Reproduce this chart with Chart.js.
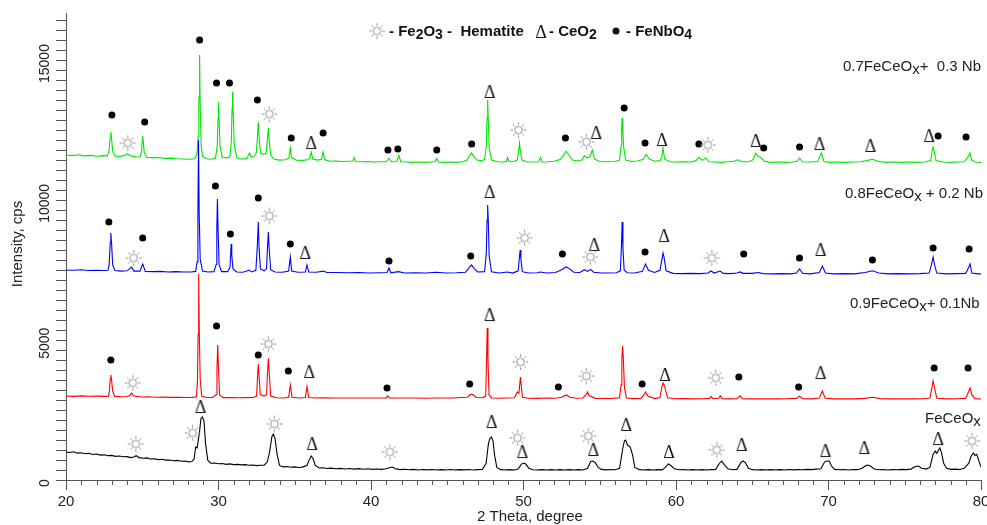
<!DOCTYPE html>
<html><head><meta charset="utf-8">
<script src="https://cdn.jsdelivr.net/npm/chart.js@4.4.1/dist/chart.umd.min.js"></script>
<style>html,body{margin:0;padding:0;background:#fff;}canvas{display:block}</style>
</head><body>
<canvas id="c" width="987" height="525"></canvas>
<script>
// ---------- axis ticks ----------
const xTickLabels = [20, 30, 40, 50, 60, 70, 80];
const yTickLabels = [0, 5000, 10000, 15000];
const seriesLabels = ['0.7FeCeOx+  0.3 Nb', '0.8FeCeOx + 0.2 Nb', '0.9FeCeOx+ 0.1Nb', 'FeCeOx'];

// ---------- XRD patterns (2θ, cps) ----------
const nb03 = [[20,11620],[20.4,11600],[20.8,11630],[21.2,11590],[21.6,11610],[22,11580],[22.4,11600],[22.7,11590],
[22.82,11780],[22.9,12250],[22.94,12444],[22.99,12200],[23.06,11760],[23.2,11590],
[23.5,11570],[23.8,11600],[24.05,11670],[24.25,11590],[24.6,11560],[24.85,11550],
[24.96,11740],[25.0,12150],[25.03,12301],[25.07,12100],[25.13,11700],[25.3,11540],
[25.7,11520],[26.1,11530],[26.5,11500],[26.9,11510],[27.3,11490],[27.7,11480],[28.1,11470],[28.45,11490],
[28.6,11700],[28.67,12300],[28.71,13650],[28.73,13700],[28.76,15198],[28.8,13400],[28.86,12000],[28.95,11580],[29.2,11490],
[29.5,11470],[29.8,11500],
[29.92,11950],[29.97,12950],[30.0,13517],[30.04,12900],[30.1,11950],[30.25,11540],
[30.55,11520],[30.75,11560],
[30.84,12100],[30.89,13300],[30.92,13875],[30.96,13200],[31.03,12000],[31.2,11520],
[31.5,11470],[31.85,11500],[32.03,11694],[32.15,11540],[32.35,11580],[32.48,11700],
[32.55,12250],[32.61,12802],[32.66,12300],[32.75,11700],[32.95,11640],[33.12,11680],
[33.21,12200],[33.27,12588],[33.32,12150],[33.42,11640],[33.6,11480],
[34.0,11440],[34.4,11450],[34.62,11520],[34.71,11873],[34.8,11520],[35.1,11440],[35.5,11430],[35.85,11450],
[35.98,11500],[36.08,11729],[36.18,11480],[36.5,11440],[36.76,11470],[36.86,11729],[36.96,11460],
[37.3,11400],[37.7,11410],[38.1,11390],[38.5,11400],[38.8,11410],[38.89,11530],[39.0,11390],
[39.4,11380],[39.8,11390],[40.2,11370],[40.6,11380],[41.0,11380],[41.18,11500],[41.35,11380],
[41.7,11390],[41.83,11610],[41.95,11380],[42.3,11370],[42.7,11360],[43.1,11370],[43.5,11360],[43.9,11370],
[44.2,11380],[44.31,11500],[44.42,11370],[44.8,11360],[45.2,11370],[45.6,11360],[46.0,11380],
[46.3,11440],[46.45,11600],[46.6,11694],[46.75,11560],[46.95,11440],[47.25,11420],[47.45,11460],
[47.56,11950],[47.61,12950],[47.65,13589],[47.69,12900],[47.75,11900],[47.9,11440],
[48.3,11380],[48.7,11370],[48.88,11400],[48.95,11530],[49.05,11390],[49.4,11400],[49.6,11450],
[49.69,11800],[49.74,12051],[49.79,11780],[49.9,11440],[50.2,11380],[50.6,11370],[51.0,11380],
[51.11,11530],[51.22,11370],[51.6,11380],[52.0,11400],[52.4,11460],[52.6,11600],[52.8,11760],[52.95,11640],[53.2,11440],
[53.6,11410],[53.85,11450],[53.99,11600],[54.15,11520],[54.35,11560],[54.51,11800],[54.65,11480],
[55.0,11390],[55.5,11380],[56.0,11390],[56.3,11440],[56.4,11950],[56.44,12600],[56.47,12945],[56.51,12500],[56.57,11900],[56.7,11440],
[57.1,11390],[57.5,11410],[57.85,11470],[58.04,11650],[58.25,11480],[58.6,11400],[58.95,11420],
[59.06,11520],[59.15,11873],[59.25,11480],[59.6,11380],[60.0,11370],[60.5,11380],[61.0,11370],[61.3,11420],
[61.5,11536],[61.7,11430],[61.96,11510],[62.15,11380],[62.6,11370],[63.0,11360],[63.4,11380],[63.8,11400],
[64.05,11450],[64.35,11380],[64.8,11380],[65.05,11450],[65.23,11690],[65.4,11560],[65.56,11530],[65.8,11400],
[66.2,11360],[66.7,11370],[67.2,11360],[67.7,11370],[67.95,11400],[68.1,11510],[68.3,11380],
[68.8,11370],[69.3,11390],[69.45,11600],[69.54,11694],[69.7,11390],[70.1,11360],[70.6,11370],
[71.1,11360],[71.6,11370],[72.1,11380],[72.5,11420],[72.88,11470],[73.3,11390],[73.8,11360],
[74.3,11370],[74.8,11360],[75.3,11370],[75.8,11360],[76.3,11370],[76.7,11420],[76.8,11800],
[76.86,11908],[76.93,11750],[77.05,11420],[77.5,11370],[78.0,11360],[78.5,11370],[78.9,11380],
[79.2,11600],[79.28,11694],[79.38,11450],[79.6,11370],[80,11360]];

const nb02 = [[20,7510],[20.5,7500],[21,7520],[21.5,7490],[22,7500],[22.5,7490],[22.75,7500],
[22.83,7700],[22.9,8500],[22.94,8833],[22.99,8450],[23.06,7700],[23.2,7490],
[23.6,7470],[24.0,7480],[24.3,7617],[24.45,7470],[24.85,7470],[25.03,7725],[25.2,7460],
[25.7,7450],[26.2,7460],[26.7,7440],[27.2,7450],[27.7,7440],[28.2,7440],[28.5,7460],
[28.6,7800],[28.65,9500],[28.69,12158],[28.73,9600],[28.8,7900],[28.95,7470],[29.3,7440],[29.7,7450],
[29.84,7700],[29.89,9000],[29.93,10049],[29.97,9000],[30.04,7700],[30.2,7450],[30.6,7450],
[30.75,7600],[30.8,8100],[30.83,8440],[30.87,8050],[30.95,7550],[31.2,7440],[31.6,7430],
[32.0,7500],[32.2,7440],[32.45,7500],[32.54,8300],[32.61,9226],[32.66,8300],[32.75,7550],[33.0,7480],
[33.15,7560],[33.22,8400],[33.27,8869],[33.32,8300],[33.42,7520],[33.7,7440],[34.2,7430],
[34.6,7470],[34.71,7975],[34.8,7470],[35.2,7430],[35.7,7440],[35.8,7689],[35.92,7440],[36.4,7430],
[36.9,7470],[37.1,7420],[37.8,7420],[38.5,7410],[39.2,7420],[39.9,7400],[40.6,7410],[41.05,7420],
[41.18,7582],[41.3,7410],[41.8,7450],[42.2,7400],[42.9,7410],[43.6,7400],[44.3,7430],[44.9,7400],
[45.6,7410],[46.2,7430],[46.45,7600],[46.6,7689],[46.75,7570],[47.0,7440],[47.45,7450],
[47.56,8100],[47.61,9300],[47.65,9834],[47.69,9300],[47.75,8000],[47.9,7450],[48.4,7400],[48.95,7440],[49.3,7400],
[49.65,7480],[49.72,7900],[49.78,8225],[49.83,7900],[49.92,7450],[50.3,7400],[50.9,7410],[51.1,7440],[51.5,7400],
[52.1,7420],[52.5,7520],[52.8,7617],[53.0,7560],[53.3,7430],[53.7,7420],[54.0,7520],[54.2,7460],[54.4,7530],[54.6,7430],
[55.1,7400],[55.6,7400],[56.1,7410],[56.35,7480],[56.42,8300],[56.47,9226],[56.52,8300],[56.6,7500],[56.8,7410],
[57.3,7400],[57.8,7460],[58.0,7725],[58.2,7500],[58.6,7420],[58.95,7500],[59.08,7900],[59.15,8118],[59.22,7950],[59.35,7480],
[59.8,7390],[60.4,7380],[61.0,7390],[61.6,7380],[62.1,7400],[62.3,7474],[62.5,7400],[62.9,7474],[63.1,7390],
[63.6,7380],[64.0,7400],[64.2,7440],[64.4,7390],[65.0,7390],[65.4,7420],[65.7,7380],[66.3,7370],[66.9,7380],
[67.5,7370],[67.9,7400],[68.1,7546],[68.3,7390],[68.8,7370],[69.4,7420],[69.6,7653],[69.8,7400],[70.3,7370],
[71.0,7380],[71.7,7370],[72.4,7420],[72.9,7480],[73.3,7400],[73.9,7370],[74.6,7380],[75.3,7370],[76.0,7380],
[76.6,7400],[76.75,7700],[76.86,7975],[76.95,7700],[77.1,7400],[77.7,7370],[78.4,7380],[79.0,7390],
[79.15,7550],[79.28,7725],[79.4,7400],[79.8,7370],[80,7370]];

const nb01 = [[20,3004],[20.5,2990],[21,3010],[21.5,2995],[22,3000],[22.5,2990],[22.78,3000],
[22.85,3200],[22.9,3600],[22.94,3755],[22.99,3580],[23.06,3180],[23.2,2990],
[23.6,2975],[24.0,2985],[24.2,3030],[24.3,3111],[24.45,3000],[24.9,2970],[25.4,2975],
[25.9,2960],[26.4,2965],[26.9,2955],[27.4,2960],[27.9,2950],[28.3,2955],[28.55,2980],
[28.62,3500],[28.66,5200],[28.7,7367],[28.74,5300],[28.8,3600],[28.9,3000],[29.2,2950],[29.6,2950],
[29.85,3050],[29.9,4000],[29.95,4828],[30.0,4000],[30.07,3050],[30.3,2945],[30.8,2950],[31.3,2940],[31.8,2945],
[32.3,2950],[32.5,3000],[32.56,3700],[32.61,4148],[32.66,3700],[32.74,3050],[33.0,3000],[33.15,3050],
[33.22,3900],[33.27,4352],[33.32,3900],[33.42,3000],[33.8,2940],[34.3,2935],[34.6,2960],
[34.71,3397],[34.82,2960],[35.3,2935],[35.7,2950],[35.8,3337],[35.92,2950],[36.4,2935],
[36.9,2940],[37.5,2930],[38.1,2935],[38.7,2930],[39.3,2935],[39.9,2930],[40.5,2930],[41.0,2935],
[41.1,3004],[41.2,2930],[41.8,2930],[42.4,2935],[43.0,2930],[43.6,2925],[44.2,2935],[44.8,2930],
[45.4,2930],[45.9,2950],[46.3,2960],[46.5,3050],[46.6,3075],[46.72,3040],[46.9,2950],[47.3,2940],
[47.52,3000],[47.58,4300],[47.62,5436],[47.67,4300],[47.74,3050],[47.9,2935],[48.4,2925],[48.9,2930],
[49.4,2940],[49.6,3150],[49.7,3100],[49.75,3400],[49.8,3683],[49.85,3400],[49.93,2960],[50.3,2925],
[50.9,2920],[51.5,2930],[52.1,2925],[52.5,2960],[52.8,3040],[53.05,2960],[53.5,2925],[53.9,2935],
[54.1,3050],[54.2,3147],[54.3,3020],[54.7,2920],[55.2,2915],[55.8,2920],[56.3,2940],[56.4,3400],
[56.45,4300],[56.5,4792],[56.55,4300],[56.62,3300],[56.75,2930],[57.2,2910],[57.7,2920],[57.9,3050],
[58.0,3147],[58.15,3000],[58.6,2910],[58.95,2950],[59.08,3350],[59.15,3469],[59.22,3400],[59.3,3250],[59.45,2940],
[59.9,2905],[60.5,2910],[61.1,2900],[61.7,2905],[62.2,2920],[62.3,2990],[62.42,2905],[62.8,2920],
[62.9,3010],[63.0,2910],[63.5,2900],[64.0,2910],[64.2,3010],[64.35,2905],[64.9,2900],[65.5,2905],
[66.1,2900],[66.7,2900],[67.3,2905],[67.9,2920],[68.1,3000],[68.3,2905],[68.9,2900],[69.4,2930],
[69.6,3183],[69.78,2920],[70.3,2900],[71.0,2905],[71.7,2900],[72.4,2920],[72.9,2960],[73.4,2910],
[74.1,2900],[74.8,2905],[75.5,2900],[76.2,2905],[76.65,2930],[76.78,3300],[76.86,3540],[76.95,3300],
[77.1,2920],[77.7,2900],[78.4,2905],[79.0,2920],[79.18,3150],[79.28,3290],[79.4,3050],[79.6,2910],[80,2897]];

const feceox = [[20,1000],[20.25,985],[20.5,1010],[20.75,960],[21,975],[21.25,940],[21.5,955],[21.75,910],[22,930],
[22.25,890],[22.5,900],[22.75,870],[23,880],[23.25,845],[23.5,860],[23.75,830],[24,835],[24.25,800],
[24.45,820],[24.6,870],[24.8,800],[25.05,780],[25.3,790],[25.55,750],[25.8,760],[26.05,730],[26.3,740],
[26.55,710],[26.8,715],[27.05,690],[27.3,700],[27.55,670],[27.8,680],[28.05,650],[28.25,660],
[28.4,750],[28.5,1180],[28.6,1150],[28.75,1700],[28.85,2200],[28.95,2253],[29.05,2100],[29.15,1300],[29.3,700],
[29.5,600],[29.75,610],[30,580],[30.25,590],[30.5,560],[30.75,575],[31,550],[31.25,560],[31.5,540],
[31.75,550],[32,525],[32.25,535],[32.5,515],[32.75,525],[33.0,530],[33.2,650],[33.35,1000],
[33.5,1550],[33.6,1645],[33.7,1500],[33.85,900],[34.0,520],[34.25,470],[34.5,480],[34.75,455],[35,470],
[35.25,445],[35.5,460],[35.8,520],[35.95,720],[36.08,858],[36.2,760],[36.35,520],[36.6,430],[36.85,440],
[37.1,410],[37.4,425],[37.7,400],[38,415],[38.3,395],[38.6,410],[38.9,390],[39.2,405],[39.5,385],
[39.8,400],[40.1,380],[40.4,395],[40.7,380],[41.0,400],[41.25,450],[41.4,465],[41.6,400],[41.9,370],
[42.2,385],[42.5,365],[42.8,380],[43.1,360],[43.4,378],[43.7,362],[44.0,375],[44.3,358],[44.6,372],
[44.9,360],[45.2,375],[45.5,358],[45.8,370],[46.1,362],[46.4,378],[46.7,360],[47.0,372],[47.3,380],
[47.55,600],[47.7,1300],[47.8,1480],[47.9,1538],[48.0,1400],[48.1,900],[48.25,450],[48.5,370],
[48.8,358],[49.1,372],[49.4,360],[49.65,390],[49.85,560],[50.0,608],[50.15,570],[50.35,420],[50.6,365],
[50.9,358],[51.2,372],[51.5,356],[51.8,370],[52.1,358],[52.4,372],[52.7,356],[53.0,370],[53.3,358],
[53.6,372],[53.9,360],[54.2,420],[54.4,660],[54.55,680],[54.7,620],[54.9,450],[55.1,380],[55.4,362],
[55.7,375],[56.0,365],[56.3,420],[56.5,1100],[56.62,1400],[56.7,1430],[56.82,1250],[57.0,1180],[57.15,900],
[57.3,450],[57.6,370],[57.9,360],[58.2,372],[58.5,356],[58.8,370],[59.1,362],[59.3,450],[59.5,572],
[59.7,500],[59.9,400],[60.2,365],[60.5,372],[60.8,356],[61.1,370],[61.4,358],[61.7,372],[62.0,356],
[62.3,372],[62.6,380],[62.85,600],[63.0,680],[63.15,560],[63.4,400],[63.7,365],[64.0,380],[64.25,620],
[64.4,680],[64.55,620],[64.75,420],[65.0,370],[65.3,358],[65.6,372],[65.9,356],[66.2,370],[66.5,358],
[66.8,372],[67.1,360],[67.4,375],[67.7,362],[68.0,378],[68.3,365],[68.6,380],[68.9,370],[69.2,390],
[69.5,400],[69.75,650],[69.9,680],[70.05,680],[70.2,500],[70.4,380],[70.7,365],[71.0,378],[71.3,360],
[71.6,375],[71.9,370],[72.2,420],[72.45,520],[72.6,536],[72.8,480],[73.0,390],[73.3,365],[73.6,378],
[73.9,360],[74.2,372],[74.5,365],[74.8,380],[75.1,370],[75.4,390],[75.7,480],[75.9,500],[76.1,420],
[76.4,390],[76.65,450],[76.85,900],[77.0,1037],[77.1,950],[77.2,1050],[77.3,1144],[77.4,1000],[77.55,600],
[77.75,420],[78.0,380],[78.3,390],[78.6,375],[78.9,420],[79.2,600],[79.35,850],[79.5,966],[79.6,880],
[79.72,920],[79.85,700],[80,460]];

// ---------- phase markers (2θ, cps) ----------
const hematiteMarks = [[24.05,12051],[33.33,13088],[49.67,12516],[54.12,12087],[62.09,11980],
[24.44,7939],[33.33,9441],[50.07,8654],[54.38,7975],[62.35,7939],
[24.38,3469],[33.27,4863],[49.8,4220],[54.12,3719],[62.61,3648],
[24.58,1287],[28.3,1681],[33.66,2003],[41.24,1001],[49.61,1502],[54.25,1573],[62.68,1073],[79.41,1395]];
const ceo2Marks = [[36.08,12051],[47.78,13875],[54.77,12409],[59.08,12158],[65.23,12123],[69.41,12015],[72.75,11944],[76.6,12301],
[35.69,8118],[47.78,10299],[54.64,8404],[59.22,8725],[69.48,8225],
[35.95,3862],[47.78,5900],[59.28,3755],[69.48,3826],
[28.82,2610],[36.14,1287],[47.91,2074],[49.93,1001],[54.58,1073],[56.73,1967],[59.54,1001],[64.31,1252],[69.8,1037],[72.35,1144],[77.19,1466]];
const fenbo4Marks = [[23.01,13052],[25.16,12802],[28.76,15734],[29.87,14197],[30.72,14197],[32.55,13589],[34.77,12230],[36.86,12409],[41.11,11801],[41.76,11837],[44.31,11801],[46.6,12015],[52.75,12230],[56.6,13303],[57.97,12051],[61.5,12015],[65.75,11872],[68.1,11908],[77.19,12301],[79.02,12266],
[22.81,9226],[25.03,8654],[29.8,10513],[30.78,8797],[32.61,10084],[34.71,8439],[41.18,7832],[46.54,8010],[52.55,8082],[57.97,8153],[64.44,8082],[68.1,7939],[72.88,7867],[76.86,8296],[79.22,8261],
[22.94,4291],[29.87,5507],[32.61,4470],[34.58,3898],[41.05,3290],[46.47,3433],[52.29,3326],[57.78,3433],[64.12,3683],[68.04,3326],[76.93,4005],[79.15,4005]];

// ---------- styling ----------
const FONT = '"Liberation Sans", Arial, sans-serif';
const AXIS = '#555';
const toXY = a => a.map(p => ({x: p[0], y: p[1]}));

function makeSun() {
  const c = document.createElement('canvas'); c.width = 17; c.height = 17;
  const g = c.getContext('2d'); g.strokeStyle = '#8c8c8c'; g.lineWidth = 1;
  g.beginPath(); g.arc(8.5, 8.5, 3.8, 0, Math.PI * 2); g.stroke();
  g.beginPath();
  for (let k = 0; k < 8; k++) {
    const a = k * Math.PI / 4;
    g.moveTo(8.5 + Math.cos(a) * 5.4, 8.5 + Math.sin(a) * 5.4);
    g.lineTo(8.5 + Math.cos(a) * 7.8, 8.5 + Math.sin(a) * 7.8);
  }
  g.stroke();
  return c;
}
function makeDelta() {
  const c = document.createElement('canvas'); c.width = 20; c.height = 20;
  const g = c.getContext('2d'); g.fillStyle = '#1a1a1a';
  g.font = '18px "Liberation Serif", "Times New Roman", serif';
  g.textAlign = 'center'; g.textBaseline = 'alphabetic';
  g.fillText('\u0394', 10, 16.3);
  return c;
}
const sunImg = makeSun();
const deltaImg = makeDelta();

function drawRich(ctx, x, y, parts, size, weight) {
  let cx = x;
  for (const p of parts) {
    const s = p.sub ? (p.size || size - 1) : size;
    ctx.font = weight + ' ' + s + 'px ' + FONT;
    ctx.fillText(p.t, cx, y + (p.sub ? (p.dy || 3) : 0));
    cx += ctx.measureText(p.t).width;
  }
  return cx;
}

const overlay = {
  id: 'overlay',
  afterDraw(chart) {
    const ctx = chart.ctx, xs = chart.scales.x, ys = chart.scales.y;
    ctx.save();
    // minor x ticks
    ctx.strokeStyle = AXIS; ctx.lineWidth = 1; ctx.beginPath();
    for (let v = xs.min + 1; v < xs.max; v++) {
      if (v % 10 === 0) continue;
      const px = Math.round(xs.getPixelForValue(v)) + 0.5;
      ctx.moveTo(px, xs.top); ctx.lineTo(px, xs.top + 5);
    }
    ctx.stroke();
    // rotated y tick labels
    ctx.fillStyle = '#222'; ctx.font = '14px ' + FONT;
    ctx.textAlign = 'center'; ctx.textBaseline = 'middle';
    for (const v of yTickLabels) {
      const py = ys.getPixelForValue(v);
      ctx.save(); ctx.translate(45, py + 3); ctx.rotate(-Math.PI / 2);
      ctx.fillText(String(v), 0, 0); ctx.restore();
    }
    // axis titles
    ctx.font = '15px ' + FONT;
    ctx.save(); ctx.translate(18, 244); ctx.rotate(-Math.PI / 2);
    ctx.fillText('Intensity, cps', 0, 0); ctx.restore();
    ctx.textBaseline = 'alphabetic';
    ctx.fillText('2 Theta, degree', 530, 521);
    // legend
    ctx.textAlign = 'left'; ctx.fillStyle = '#111';
    ctx.drawImage(sunImg, 377 - 8.5, 31 - 8.5);
    drawRich(ctx, 389, 36, [{t: '- Fe'}, {t: '2', sub: true}, {t: 'O'}, {t: '3', sub: true}, {t: ' -  Hematite'}], 15, 'bold');
    ctx.drawImage(deltaImg, 541 - 10, 32 - 10);
    drawRich(ctx, 549, 36, [{t: '- CeO'}, {t: '2', sub: true}], 15, 'bold');
    ctx.beginPath(); ctx.arc(616, 31, 3.5, 0, Math.PI * 2); ctx.fill();
    drawRich(ctx, 626, 36, [{t: '- FeNbO'}, {t: '4', sub: true}], 15, 'bold');
    // series labels
    ctx.fillStyle = '#222';
    drawRich(ctx, 843, 71, [{t: '0.7FeCeO'}, {t: 'x', sub: true, size: 15}, {t: '+  0.3 Nb'}], 15, 'normal');
    drawRich(ctx, 845, 197.5, [{t: '0.8FeCeO'}, {t: 'x', sub: true, size: 15}, {t: ' + 0.2 Nb'}], 15, 'normal');
    drawRich(ctx, 850, 307.5, [{t: '0.9FeCeO'}, {t: 'x', sub: true, size: 15}, {t: '+ 0.1Nb'}], 15, 'normal');
    drawRich(ctx, 925, 422.5, [{t: 'FeCeO'}, {t: 'x', sub: true, size: 15}], 15, 'normal');
    ctx.restore();
  }
};

const lineDs = (label, data, color, order) => ({
  label, data: toXY(data), showLine: true, borderColor: color, borderWidth: 1.1,
  pointRadius: 0, pointHoverRadius: 0, tension: 0, fill: false, order
});

new Chart(document.getElementById('c'), {
  type: 'scatter',
  data: {
    datasets: [
      {label: 'Fe2O3', data: toXY(hematiteMarks), pointStyle: sunImg, pointRadius: 5, showLine: false, order: 0},
      {label: 'CeO2', data: toXY(ceo2Marks), pointStyle: deltaImg, pointRadius: 5, showLine: false, order: 1},
      {label: 'FeNbO4', data: toXY(fenbo4Marks), pointStyle: 'circle', pointRadius: 3.5, backgroundColor: '#000', borderColor: '#000', borderWidth: 0, showLine: false, order: 2},
      lineDs(seriesLabels[3], feceox, '#000000', 3),
      lineDs(seriesLabels[2], nb01, '#ff0000', 4),
      lineDs(seriesLabels[1], nb02, '#0000ff', 5),
      lineDs(seriesLabels[0], nb03, '#00e600', 6)
    ]
  },
  options: {
    responsive: false, animation: false, devicePixelRatio: 1,
    layout: {padding: {left: 0, right: 3, top: 13, bottom: 0}},
    plugins: {legend: {display: false}, tooltip: {enabled: false}},
    scales: {
      x: {
        type: 'linear', min: 20, max: 80,
        afterBuildTicks: s => { s.ticks = xTickLabels.map(v => ({value: v})); },
        afterFit: s => { s.height = 45; s.paddingLeft = 0; s.paddingRight = 0; },
        ticks: {font: {size: 15, family: FONT}, color: '#222', padding: 3, maxRotation: 0, autoSkip: false, callback: v => String(v)},
        grid: {display: true, drawOnChartArea: false, drawTicks: true, tickLength: 10, color: AXIS},
        border: {display: true, color: AXIS, width: 1}
      },
      y: {
        type: 'linear', min: 0, max: 16700,
        afterBuildTicks: s => { const t = []; for (let k = 0; k * 5000 / 14 <= s.max; k++) t.push({value: k * 5000 / 14}); s.ticks = t; },
        afterFit: s => { s.width = 66; s.paddingTop = 0; s.paddingBottom = 0; },
        ticks: {display: false},
        grid: {display: true, drawOnChartArea: false, drawTicks: true, tickLength: 10, color: AXIS},
        border: {display: true, color: AXIS, width: 1}
      }
    }
  },
  plugins: [overlay]
});
</script>
</body></html>
